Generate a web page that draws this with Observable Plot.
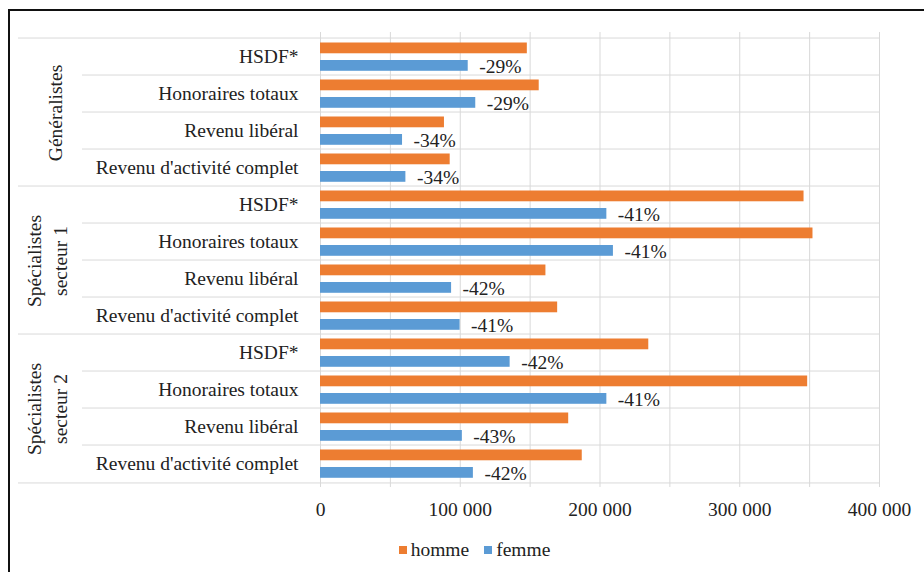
<!DOCTYPE html>
<html>
<head>
<meta charset="utf-8">
<script src="https://cdn.jsdelivr.net/npm/d3@7"></script>
<script src="https://cdn.jsdelivr.net/npm/@observablehq/plot@0.6"></script>
<style>
  html, body { margin: 0; padding: 0; background: #fff; }
  body { width: 924px; height: 572px; position: relative; overflow: hidden; font-family: "Liberation Serif", "Times New Roman", serif; }
  #frame { position: absolute; left: 8px; top: 9px; width: 930px; height: 600px; border-top: 2px solid #111; border-left: 2px solid #111; pointer-events: none; }
  #chart { position: absolute; left: 0; top: 0; }
  #legend { position: absolute; top: 539px; left: 0; width: 949px; display: flex; justify-content: center; gap: 15px; font-size: 19.5px; color: #222; }
  #legend span.item { display: flex; align-items: center; }
  #legend i { display: inline-block; width: 8px; height: 8px; margin-right: 4px; }
</style>
</head>
<body>
<div id="chart"></div>
<div id="legend"></div>
<div id="frame"></div>
<script>
// ---- data ----
const groups = ["Généralistes", "Spécialistes\nsecteur 1", "Spécialistes\nsecteur 2"];
const categories = ["HSDF*", "Honoraires totaux", "Revenu libéral", "Revenu d'activité complet"];
const homme = [148000, 156500, 88700, 92800, 346000, 352400, 161300, 169700, 234900, 348600, 177600, 187300];
const femme = [105700, 111100, 58700, 61100, 204900, 209600, 93800, 99900, 135700, 204900, 101500, 109400];
const ecarts = ["-29%", "-29%", "-34%", "-34%", "-41%", "-41%", "-42%", "-41%", "-42%", "-41%", "-43%", "-42%"];
const xTicks = [0, 100000, 200000, 300000, 400000];
const gridTicks = [0, 50000, 100000, 150000, 200000, 250000, 300000, 350000, 400000];
const series = ["homme", "femme"];
const colors = ["#ED7D31", "#5B9BD5"];

// ---- table ----
const rows = [];
groups.forEach((g, gi) => categories.forEach((c, ci) => {
  const i = gi * categories.length + ci;
  rows.push({key: g + "|" + c, group: g, category: c, homme: homme[i], femme: femme[i], ecart: ecarts[i], first: ci === 0, mid: ci === 1});
}));
const keys = rows.map(d => d.key);

const W = 924, H = 530, MT = 32, MB = 43, ML = 320, MR = 45;
const step = (H - MT - MB) / keys.length;
const fmt = d => d3.format(",")(d).replace(/,/g, " ");
const grid = "#d9d9d9";
const FS = 19.5;

const plot = Plot.plot({
  width: W, height: H,
  marginTop: MT, marginBottom: MB, marginLeft: ML, marginRight: MR,
  style: {fontFamily: "'Liberation Serif', 'Times New Roman', serif", fontSize: FS + "px", color: "#222", background: "transparent"},
  x: {domain: [0, 400000], ticks: xTicks, tickFormat: fmt, tickSize: 0, tickPadding: 15, label: null},
  y: {domain: keys, padding: 0, tickFormat: k => k.split("|")[1], tickSize: 0, tickPadding: 22, label: null},
  marks: [
    Plot.ruleX(gridTicks, {stroke: grid, strokeWidth: 1}),
    Plot.ruleY(rows.filter(d => !d.first), {y: "key", dy: -step / 2, stroke: grid, insetLeft: 82 - ML}),
    Plot.ruleY(rows.filter(d => d.first), {y: "key", dy: -step / 2, stroke: grid, insetLeft: 18 - ML}),
    Plot.ruleY(rows.slice(-1), {y: "key", dy: step / 2, stroke: grid, insetLeft: 18 - ML}),
    Plot.barX(rows, {x: "homme", y: "key", fill: colors[0], insetTop: 4.5, insetBottom: step - 16.2}),
    Plot.barX(rows, {x: "femme", y: "key", fill: colors[1], insetTop: 22, insetBottom: step - 33.7}),
    Plot.text(rows, {x: "femme", y: "key", text: "ecart", dx: 11, dy: 10, textAnchor: "start", fill: "#222", fontSize: FS}),
    Plot.text(rows.filter(d => d.mid && !d.group.includes("\n")), {y: "key", text: "group", frameAnchor: "left", dx: 55 - ML, dy: step / 2, rotate: -90, textAnchor: "middle", fill: "#222", fontSize: FS}),
    Plot.text(rows.filter(d => d.mid && d.group.includes("\n")), {y: "key", text: "group", frameAnchor: "left", dx: 45 - ML, dy: step / 2, rotate: -90, textAnchor: "middle", lineHeight: 1.35, fill: "#222", fontSize: FS})
  ]
});
document.getElementById("chart").appendChild(plot);

// legend
const legend = document.getElementById("legend");
series.forEach((s, i) => {
  const item = document.createElement("span");
  item.className = "item";
  item.innerHTML = `<i style="background:${colors[i]}"></i>${s}`;
  legend.appendChild(item);
});
</script>
</body>
</html>
